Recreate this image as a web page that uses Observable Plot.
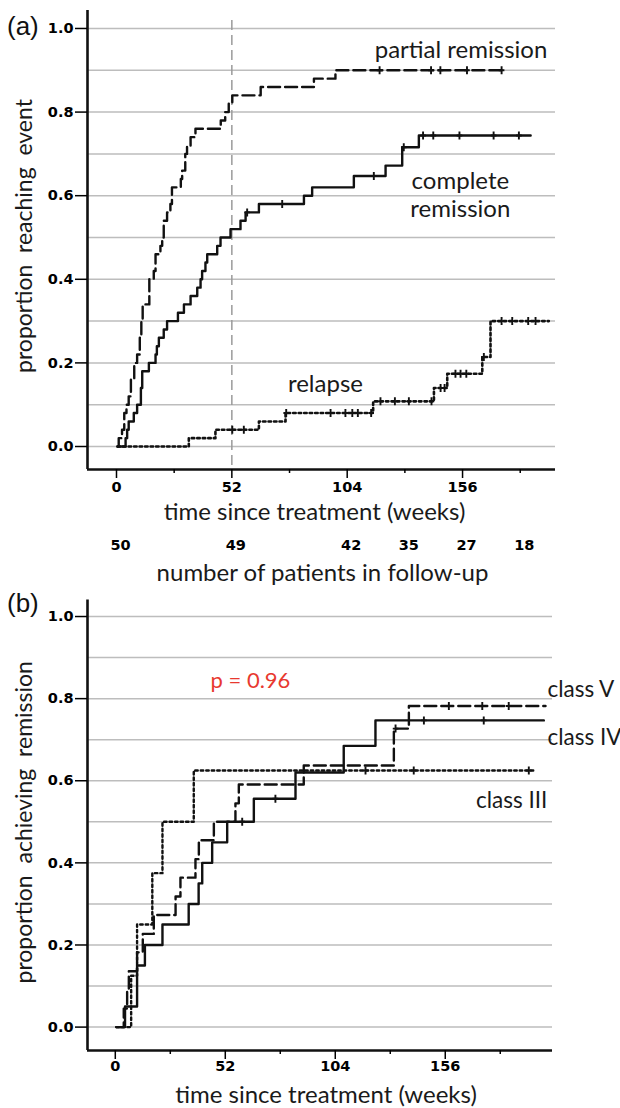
<!DOCTYPE html>
<html><head><meta charset="utf-8">
<script src="https://cdn.jsdelivr.net/npm/d3@7"></script>
<script src="https://cdn.jsdelivr.net/npm/@observablehq/plot@0.6"></script>
<style>
body{margin:0;background:#fff;}
#wrap{position:relative;width:620px;height:1108px;overflow:hidden;background:#fff;}
#wrap svg{position:absolute;left:0;z-index:1;}
.panel{position:absolute;left:7px;z-index:5;font:26px/26px "Liberation Sans",Arial,sans-serif;color:#111;}
</style></head><body><div id="wrap"><div class="panel" style="top:13px">(a)</div><div class="panel" style="top:590px">(b)</div></div>
<script>
// ---- tick labels / categories ----
const xTicksMajor = [0, 52, 104, 156];
const xTicksMinor = [26, 78, 130, 182];
const yTicks = [0, 0.2, 0.4, 0.6, 0.8, 1.0];
const gridValues = [0, 0.1, 0.2, 0.3, 0.4, 0.5, 0.6, 0.7, 0.8, 0.9, 1.0];
const refWeek = [52];
const followWeeks = [0, 52, 104, 130, 156, 182];
const followCounts = [50, 49, 42, 35, 27, 18];

// ---- panel (a) series: [week, proportion] ----
const partialRemission = [[0.5,0],[1,0.02],[2.5,0.04],[3.5,0.08],[4.5,0.10],[5.5,0.12],[6.5,0.16],[8,0.20],[9.3,0.22],[10.5,0.26],[11.2,0.30],[11.8,0.34],[14.8,0.40],[16.8,0.42],[17.6,0.46],[19.8,0.48],[20.6,0.50],[21.3,0.54],[22.8,0.56],[24.3,0.58],[25,0.62],[29,0.64],[29.6,0.66],[31,0.70],[31.8,0.72],[33.4,0.74],[35.6,0.76],[47,0.78],[49,0.80],[50.6,0.82],[52.2,0.84],[65,0.86],[89,0.88],[98.7,0.90],[175,0.90]];
const partialCensored = [118.6, 141.8, 146, 158, 173.6];
const completeRemission = [[0.5,0],[4.1,0.02],[4.8,0.04],[5.5,0.06],[7.8,0.08],[9.3,0.10],[11,0.14],[11.6,0.18],[14.6,0.20],[17.6,0.22],[18.2,0.24],[19.1,0.26],[21.3,0.28],[22.8,0.30],[27.7,0.32],[30.4,0.34],[33.4,0.36],[36.4,0.38],[37.9,0.40],[38.6,0.42],[40.1,0.44],[40.9,0.46],[45.4,0.48],[46.9,0.50],[51.4,0.52],[55.9,0.54],[58.2,0.56],[64.2,0.58],[84.5,0.60],[88.2,0.62],[107,0.647],[121.3,0.672],[128.8,0.716],[136.3,0.744],[186.7,0.744]];
const completeCensored = [58.9, 74.7, 116, 129.5, 138.2, 142.8, 154.6, 170, 181.4];
const relapse = [[0.5,0],[32.6,0.02],[44.6,0.04],[64.2,0.06],[76.2,0.08],[115.7,0.108],[143.1,0.14],[149.1,0.174],[164.9,0.214],[168.6,0.30],[194.9,0.30]];
const relapseCensored = [52.2,57.4,76.5,96.5,103.2,106.3,108.8,114.8,119,125.5,131.8,142,146.1,147.9,152.8,155.1,157.7,165.6,173.6,178.4,185.6,188.9];

// ---- panel (b) series ----
const classIII = [[0.5,0],[7.5,0.125],[10.3,0.25],[17.5,0.375],[22.3,0.5],[37.1,0.625],[197.7,0.625]];
const classIIICensored = [118.3, 141.1, 195.5];
const classIV = [[0.5,0],[4.6,0.05],[10.3,0.15],[14,0.20],[22.3,0.25],[34.7,0.30],[39.4,0.35],[41.1,0.40],[45.8,0.45],[52.9,0.50],[65.5,0.556],[85.2,0.62],[108,0.685],[123,0.747],[202.6,0.747]];
const classIVCensored = [60, 75.7, 145.9, 174.2];
const classV = [[0.5,0],[4,0.045],[5.6,0.091],[6.4,0.136],[10.3,0.182],[13,0.227],[18.2,0.273],[28.5,0.318],[30.8,0.364],[37.9,0.409],[39.5,0.455],[46.6,0.5],[56.8,0.545],[58.4,0.591],[89.1,0.637],[131.7,0.727],[138.8,0.782],[203.4,0.782]];
const classVCensored = [132.5, 157.7, 173.5, 186];

// ---- texts ----
const labelsA = [
  {text:"partial remission", x:155.3, y:0.952},
  {text:"complete\nremission", x:155, y:0.603},
  {text:"relapse", x:94.2, y:0.151}
];
const labelsB = [
  {text:"class V", x:204.3, y:0.821, anchor:"start"},
  {text:"class IV", x:204.3, y:0.704, anchor:"start"},
  {text:"class III", x:204.3, y:0.552, anchor:"end"}
];
const pLabel = [{text:"p = 0.96", x:63.9, y:0.842}];
const xTitle = "time since treatment (weeks)";
const followTitle = "number of patients in follow-up";
const yTitleA = "proportion  reaching  event";
const yTitleB = "proportion  achieving  remission";

// ---- helpers ----
const toRows = s => s.map(([w, v]) => ({w, v}));
const valueAt = (s, t) => { let v = 0; for (const [w, p] of s) if (w <= t) v = p; return v; };
const censorRows = (s, c) => c.map(t => ({w: t, v: valueAt(s, t)}));
const censorTick = {draw(ctx, size){ const r = Math.sqrt(size/Math.PI); ctx.moveTo(0,-r); ctx.lineTo(0,r); ctx.moveTo(-r*0.7,0); ctx.lineTo(r*0.7,0);} };
const LABEL_FONT = "Lato, 'Open Sans', sans-serif";
const TICK_FONT = "'DejaVu Sans', sans-serif";

function seriesMarks(s, c, dash, sw){
  return [
    Plot.line(toRows(s), {x:"w", y:"v", curve:"step-after", stroke:"#111", strokeWidth:sw ?? 2.4, strokeDasharray:dash}),
    Plot.dot(censorRows(s, c), {x:"w", y:"v", symbol:censorTick, r:4, stroke:"#111", strokeWidth:1.9, fill:"none"})
  ];
}
function axisMarks(xdom, ydom, padX){
  return [
    Plot.ruleY([ydom[0]], {stroke:"#111", strokeWidth:2.6}),
    Plot.ruleX([xdom[0]], {stroke:"#111", strokeWidth:2.6}),
    Plot.axisY({ticks:yTicks, tickSize:12, tickPadding:2, tickFormat:d3.format(".1f"), fontSize:14.5, fontWeight:"bold", fontFamily:TICK_FONT, strokeWidth:1.5, label:null}),
    Plot.axisX({ticks:xTicksMajor, tickSize:9, tickPadding:padX, fontSize:14.5, fontWeight:"bold", fontFamily:TICK_FONT, strokeWidth:1.5, label:null}),
    Plot.axisX({ticks:xTicksMinor, tickSize:4, tickFormat:()=>"", strokeWidth:1.5, label:null})
  ];
}
const titleStyle = {fontFamily:LABEL_FONT, fill:"#1a1a1a", textAnchor:"middle", lineAnchor:"middle"};

const wrap = document.getElementById("wrap");

// ---- panel (a) ----
const xDomA = [-13.07, 197.9], yDomA = [-0.055, 1.043];
const plotA = Plot.plot({
  width:620, height:590,
  marginLeft:87, marginRight:65, marginTop:10, marginBottom:121,
  x:{domain:xDomA}, y:{domain:yDomA},
  style:{background:"white", overflow:"visible", fontFamily:TICK_FONT},
  marks:[
    Plot.ruleY(gridValues, {stroke:"#bdbdbd", strokeWidth:1.5}),
    Plot.ruleX(refWeek, {stroke:"#9a9a9a", strokeWidth:1.5, strokeDasharray:"10,5", insetTop:10}),
    ...seriesMarks(relapse, relapseCensored, "2.5,3", 2.6),
    ...seriesMarks(completeRemission, completeCensored, null),
    ...seriesMarks(partialRemission, partialCensored, "12,5"),
    ...axisMarks(xDomA, yDomA, 3),
    Plot.text(labelsA, {x:"x", y:"y", text:"text", fontSize:24, lineHeight:1.17, ...titleStyle}),
    Plot.text(followWeeks.map((w,i)=>({w, n:followCounts[i]})), {x:"w", text:"n", frameAnchor:"bottom", lineAnchor:"middle", dy:76, dx:4, fontSize:14.5, fontWeight:"bold", fontFamily:TICK_FONT}),
    Plot.text([xTitle], {text:d=>d, frameAnchor:"bottom", dy:43, dx:-7, fontSize:24, ...titleStyle}),
    Plot.text([followTitle], {text:d=>d, frameAnchor:"bottom", dy:104, dx:1, fontSize:24, ...titleStyle}),
    Plot.text([yTitleA], {text:d=>d, frameAnchor:"left", rotate:-90, dx:-63, dy:-4, fontSize:23, ...titleStyle})
  ]
});
plotA.style.top = "0px";
wrap.appendChild(plotA);

// ---- panel (b) ----
const xDomB = [-13.14, 206.7], yDomB = [-0.057, 1.04];
const plotB = Plot.plot({
  width:620, height:518,
  marginLeft:87, marginRight:68, marginTop:9.6, marginBottom:58,
  x:{domain:xDomB}, y:{domain:yDomB},
  style:{background:"white", overflow:"visible", fontFamily:TICK_FONT},
  marks:[
    Plot.ruleY(gridValues, {stroke:"#bdbdbd", strokeWidth:1.5}),
    ...seriesMarks(classIII, classIIICensored, "2.5,3", 2.4),
    ...seriesMarks(classV, classVCensored, "12,5"),
    ...seriesMarks(classIV, classIVCensored, null),
    ...axisMarks(xDomB, yDomB, 1),
    Plot.text(labelsB.filter(d=>d.anchor==="start"), {x:"x", y:"y", text:"text", fontSize:22.5, ...titleStyle, textAnchor:"start"}),
    Plot.text(labelsB.filter(d=>d.anchor==="end"), {x:"x", y:"y", text:"text", fontSize:22.5, ...titleStyle, textAnchor:"end"}),
    Plot.text(pLabel, {x:"x", y:"y", text:"text", fontSize:22, ...titleStyle, fill:"#e8392f"}),
    Plot.text([xTitle], {text:d=>d, frameAnchor:"bottom", dy:45, dx:6, fontSize:24, ...titleStyle}),
    Plot.text([yTitleB], {text:d=>d, frameAnchor:"left", rotate:-90, dx:-63, dy:-3, fontSize:23, ...titleStyle})
  ]
});
plotB.style.top = "590px";
wrap.appendChild(plotB);
</script>
</body></html>
